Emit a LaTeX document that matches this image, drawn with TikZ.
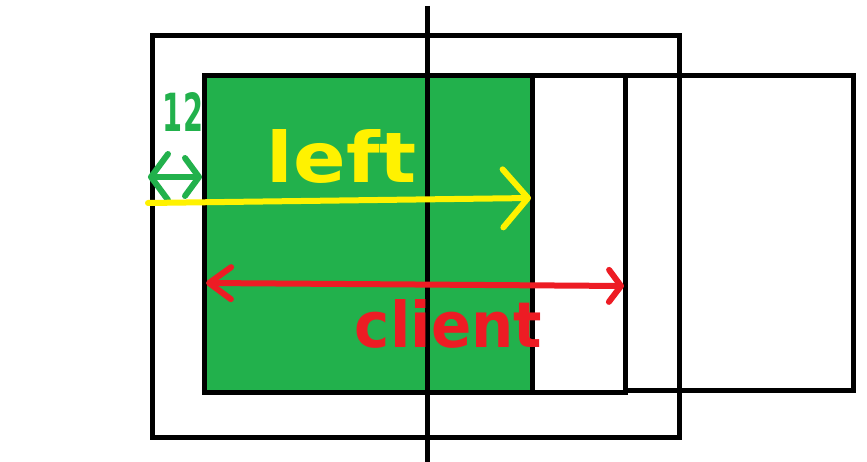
\documentclass[tikz,border=0pt]{standalone}
\usepackage{fontspec}
\setmainfont{DejaVu Sans}
\usetikzlibrary{arrows.meta}
\definecolor{pgreen}{HTML}{22B14C}
\definecolor{pyellow}{HTML}{FFF200}
\definecolor{pred}{HTML}{ED1C24}
\begin{document}
\begin{tikzpicture}[x=1pt,y=-1pt,
  box/.style={draw=black, line width=5pt, inner sep=0pt, outer sep=0pt},
  pen/.style={line width=6pt, line cap=round, line join=round},
  lbl/.style={inner sep=0pt, outer sep=0pt, font=\bfseries}]
\useasboundingbox[fill=white] (0,0) rectangle (867,462);
% rectangles
\node[box, minimum width=527pt, minimum height=401pt] (outer) at (415.5,236.5) {};
\node[box, fill=pgreen, minimum width=328pt, minimum height=316pt] (green) at (368,234) {};
\node[box, minimum width=93pt, minimum height=316pt] (mid) at (578.5,234) {};
\node[box, minimum width=228pt, minimum height=314pt] (right) at (739,233) {};
\draw[line width=5pt] (outer.north east) -- (outer.south east);
% vertical axis
\coordinate (vt) at (427,6);
\coordinate (vb) at (427,462);
\draw[line width=5pt] (vt) -- (vb);
% small green offset arrow
\coordinate (gs) at (148,177);
\coordinate (ge) at (202,177);
\draw[pen, draw=pgreen, {Straight Barb[length=17pt,width=46pt,round]}-{Straight Barb[length=14pt,width=38pt,round]}] (gs) -- (ge);
\node[lbl, text=pgreen] (twelve) at (183,112.5) {\resizebox{40pt}{39pt}{12}};
% yellow left arrow
\coordinate (ys) at (148,203);
\coordinate (ye) at (531,198);
\draw[pen, draw=pyellow, -{Straight Barb[length=25pt,width=58pt,round]}] (ys) -- (ye);
\node[lbl, text=pyellow] (left) at (342,156.5) {\resizebox{150pt}{53pt}{left}};
% red client arrow
\coordinate (rs) at (206,283);
\coordinate (re) at (624,286);
\draw[pen, draw=pred, {Straight Barb[length=22pt,width=32pt,round]}-{Straight Barb[length=12pt,width=32pt,round]}] (rs) -- (re);
\node[lbl, text=pred] (client) at (448.5,324) {\resizebox{187pt}{48pt}{client}};
\end{tikzpicture}
\end{document}
